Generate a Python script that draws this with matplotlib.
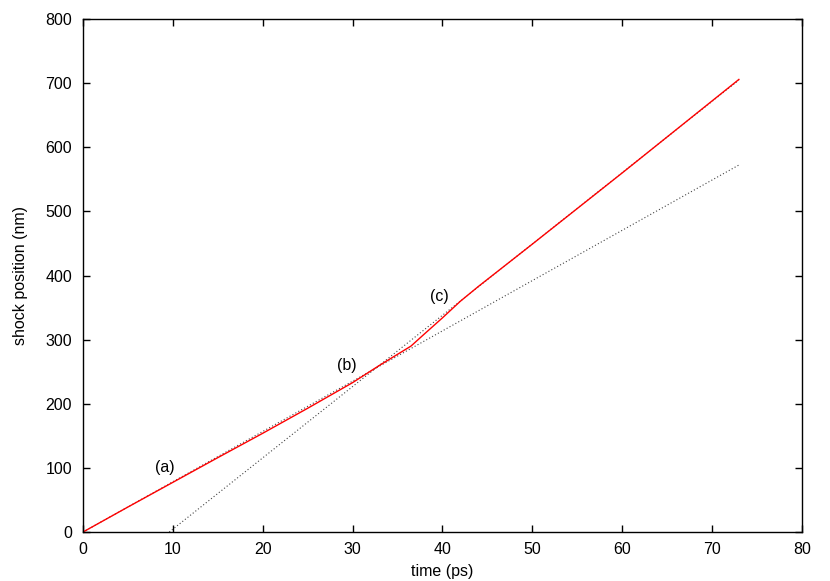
import matplotlib
matplotlib.use("Agg")
import matplotlib.pyplot as plt

plt.rcParams['font.family'] = ['Liberation Sans', 'DejaVu Sans']

# red shock trajectory
t_shock = [0, 5, 10, 15, 20, 25, 30, 33, 36.5, 38, 40, 42, 44, 50, 60, 73]
x_shock = [0, 39, 77.5, 116, 154, 193, 233, 260, 290, 309, 334, 360, 383, 449, 560, 706]

# dotted linear fits
t_fit_a = [0, 73]
x_fit_a = [0, 572.5]
t_fit_b = [9.6, 73]
x_fit_b = [0, 705]

labels = ["(a)", "(b)", "(c)"]
label_t = [9.1, 29.4, 39.7]
label_x = [100, 259, 368]

fig = plt.figure(figsize=(8.3, 5.81), dpi=100)
ax = fig.add_axes([0.1, 0.0843, 0.866, 0.8827])

ax.plot(t_fit_a, x_fit_a, color='#444444', lw=0.8, linestyle=(0, (1, 2)))
ax.plot(t_fit_b, x_fit_b, color='#444444', lw=0.8, linestyle=(0, (1, 2)))
ax.plot(t_shock, x_shock, color='#ff0000', lw=1.0)

for s, tx, ty in zip(labels, label_t, label_x):
    ax.text(tx, ty, s, fontsize=11.5, ha='center', va='center')

ax.set_xlim(0, 80)
ax.set_ylim(0, 800)
ax.set_xticks(range(0, 81, 10))
ax.set_yticks(range(0, 801, 100))
ax.tick_params(direction='in', length=5, width=1, top=True, right=True, labelsize=11.5)
ax.tick_params(axis='y', pad=8)
ax.tick_params(axis='x', pad=7)
for sp in ax.spines.values():
    sp.set_linewidth(1.0)
ax.set_xlabel("time (ps)", fontsize=11.5, labelpad=5)
ax.set_ylabel("shock position (nm)", fontsize=11.5, labelpad=12)

fig.savefig("out.png", dpi=100)
